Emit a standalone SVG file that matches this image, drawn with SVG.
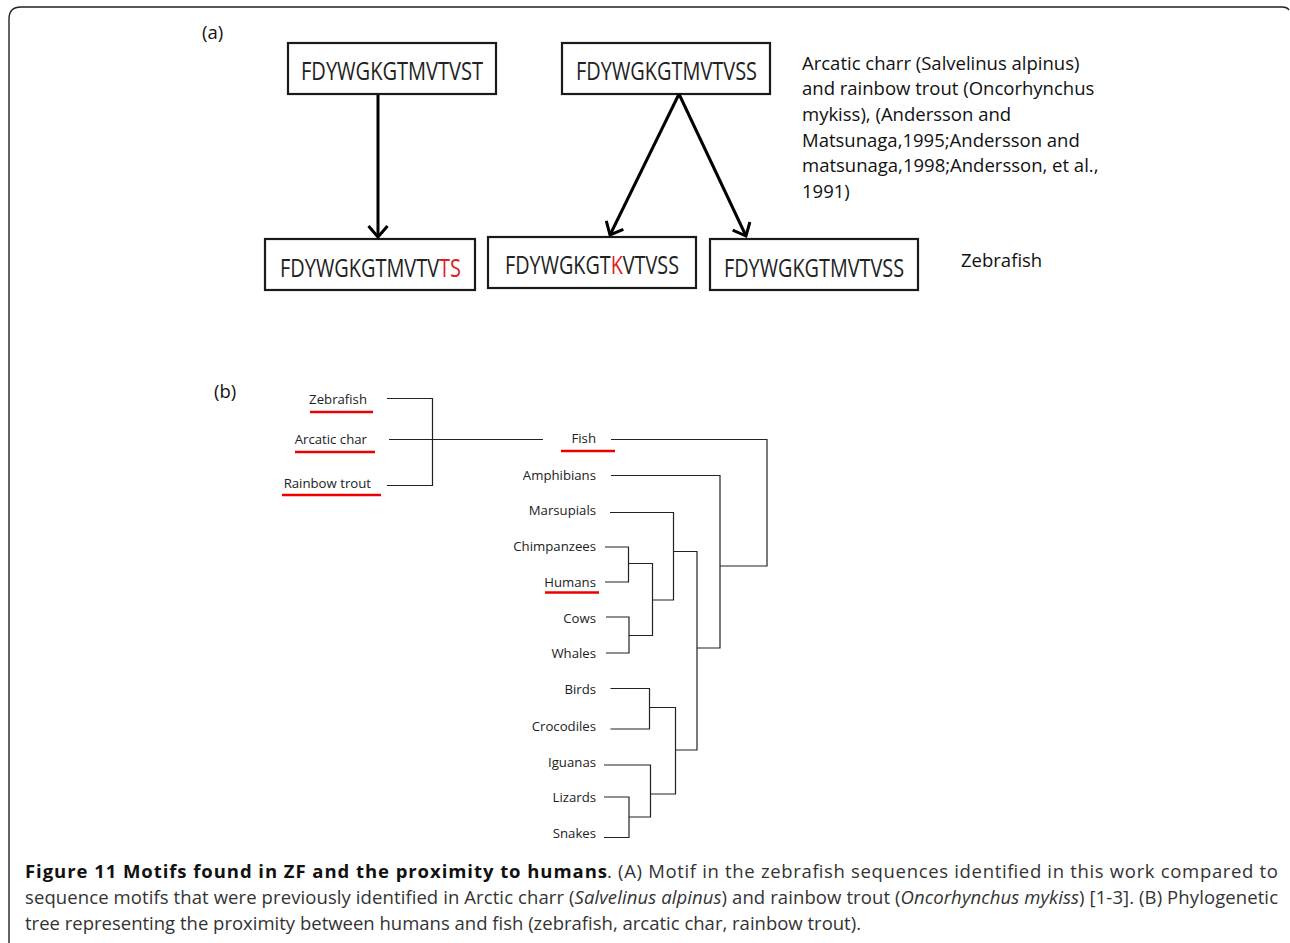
<svg xmlns="http://www.w3.org/2000/svg" width="1290" height="943" viewBox="0 0 1290 943">
<style>
.frame{fill:none;stroke:#222;stroke-width:1.4}
.box{fill:#fff;stroke:#1a1a1a;stroke-width:2.2}
.seq{font-family:"Open Sans",sans-serif;font-size:25px;fill:#222}
.red{fill:#e02020}
.lbl{font-family:"Open Sans",sans-serif;font-size:18.5px;fill:#111}
.tl{font-family:"Open Sans",sans-serif;font-size:13.2px;fill:#222;text-anchor:end}
.br{fill:none;stroke:#222;stroke-width:1.2}
.ul{stroke:#e00;stroke-width:2.6}
.arr{fill:none;stroke:#000;stroke-width:3}
.cap{font-family:"Open Sans",sans-serif;font-size:18.5px;fill:#333}
.capb{font-weight:bold;fill:#111}
</style>
<defs>
<marker id="ah" markerUnits="userSpaceOnUse" viewBox="-14 -12 16 24" refX="0" refY="0" markerWidth="16" markerHeight="24" orient="auto">
<path d="M-11,-9.5 L0,0 L-11,9.5" fill="none" stroke="#000" stroke-width="3"/>
</marker>
</defs>
<path class="frame" d="M9,943 L9,19 Q9,7 21,7 L1282,7 Q1287,7 1289,10"/>
<text class="lbl" x="202" y="39">(a)</text>
<text class="lbl" x="214" y="398">(b)</text>
<g id="box1"><rect class="box" x="288" y="43" width="208" height="51"/><text class="seq" x="301" y="80" textLength="182" lengthAdjust="spacingAndGlyphs">FDYWGKGTMVTVST</text></g>
<g id="box2"><rect class="box" x="562" y="43" width="208" height="51"/><text class="seq" x="576" y="80" textLength="181" lengthAdjust="spacingAndGlyphs">FDYWGKGTMVTVSS</text></g>
<g id="box3"><rect class="box" x="265" y="239" width="210" height="51"/><text class="seq" x="280" y="277" textLength="181" lengthAdjust="spacingAndGlyphs">FDYWGKGTMVTV<tspan class="red">TS</tspan></text></g>
<g id="box4"><rect class="box" x="488" y="237" width="208" height="51"/><text class="seq" x="505" y="274" textLength="174" lengthAdjust="spacingAndGlyphs">FDYWGKGT<tspan class="red">K</tspan>VTVSS</text></g>
<g id="box5"><rect class="box" x="710" y="239" width="208" height="51"/><text class="seq" x="724" y="277" textLength="180" lengthAdjust="spacingAndGlyphs">FDYWGKGTMVTVSS</text></g>
<g id="connectors-a">
<line class="arr" x1="378" y1="95" x2="378" y2="237" marker-end="url(#ah)"/>
<line class="arr" x1="679" y1="94" x2="610" y2="235" marker-end="url(#ah)"/>
<line class="arr" x1="679" y1="94" x2="746" y2="236" marker-end="url(#ah)"/>
</g>
<g id="note">
<text class="lbl" x="802" y="70">Arcatic charr (Salvelinus alpinus)</text>
<text class="lbl" x="802" y="95">and rainbow trout (Oncorhynchus</text>
<text class="lbl" x="802" y="121">mykiss), (Andersson and</text>
<text class="lbl" x="802" y="147">Matsunaga,1995;Andersson and</text>
<text class="lbl" x="802" y="172">matsunaga,1998;Andersson, et al.,</text>
<text class="lbl" x="802" y="198">1991)</text>
</g>
<g id="zebrafish-label"><text class="lbl" x="961" y="267">Zebrafish</text></g>
<g id="tree-labels">
<text class="tl" x="367" y="404">Zebrafish</text>
<text class="tl" x="367" y="443.5">Arcatic char</text>
<text class="tl" x="371" y="487.5">Rainbow trout</text>
<text class="tl" x="596" y="442.5">Fish</text>
<text class="tl" x="596" y="479.5">Amphibians</text>
<text class="tl" x="596" y="514.5">Marsupials</text>
<text class="tl" x="596" y="550.5">Chimpanzees</text>
<text class="tl" x="596" y="586.5">Humans</text>
<text class="tl" x="596" y="622.5">Cows</text>
<text class="tl" x="596" y="657.5">Whales</text>
<text class="tl" x="596" y="693.5">Birds</text>
<text class="tl" x="596" y="731">Crocodiles</text>
<text class="tl" x="596" y="767">Iguanas</text>
<text class="tl" x="596" y="802">Lizards</text>
<text class="tl" x="596" y="837.5">Snakes</text>
</g>
<g id="underlines">
<line class="ul" x1="310" y1="412" x2="373" y2="412"/>
<line class="ul" x1="295" y1="452" x2="375" y2="452"/>
<line class="ul" x1="282" y1="495" x2="381" y2="495"/>
<line class="ul" x1="561" y1="451" x2="615" y2="451"/>
<line class="ul" x1="545" y1="592.5" x2="599" y2="592.5"/>
</g>
<g id="connectors-b">
<path class="br" d="M387,398.5 H432.5 V485.5 H387"/>
<path class="br" d="M389,439.5 H543"/>
<path class="br" d="M611,439.5 H767 V566 H720"/>
<path class="br" d="M611,475.5 H720 V648 H697"/>
<path class="br" d="M610,512.5 H673.5 V600 H652.5"/>
<path class="br" d="M673.5,551.5 H697 V750 H675.5"/>
<path class="br" d="M605,547 H628.5 V582 H605"/>
<path class="br" d="M628.5,563.5 H652.5 V635.5 H629"/>
<path class="br" d="M606,617 H629 V653 H606"/>
<path class="br" d="M610.5,688.5 H649.5 V729 H610.5"/>
<path class="br" d="M649.5,707.5 H675.5 V794 H650.5"/>
<path class="br" d="M604,765 H650.5 V817 H629"/>
<path class="br" d="M604,797 H629 V837.5 H604"/>
</g>
<g id="caption">
<text class="cap capb" x="25" y="878" textLength="582" lengthAdjust="spacing">Figure 11 Motifs found in ZF and the proximity to humans</text>
<text class="cap" x="607" y="878" textLength="671" lengthAdjust="spacing">. (A) Motif in the zebrafish sequences identified in this work compared to</text>
<text class="cap" x="25" y="904" textLength="1253" lengthAdjust="spacing">sequence motifs that were previously identified in Arctic charr (<tspan font-style="italic">Salvelinus alpinus</tspan>) and rainbow trout (<tspan font-style="italic">Oncorhynchus mykiss</tspan>) [1-3]. (B) Phylogenetic</text>
<text class="cap" x="25" y="930">tree representing the proximity between humans and fish (zebrafish, arcatic char, rainbow trout).</text>
</g>
</svg>
